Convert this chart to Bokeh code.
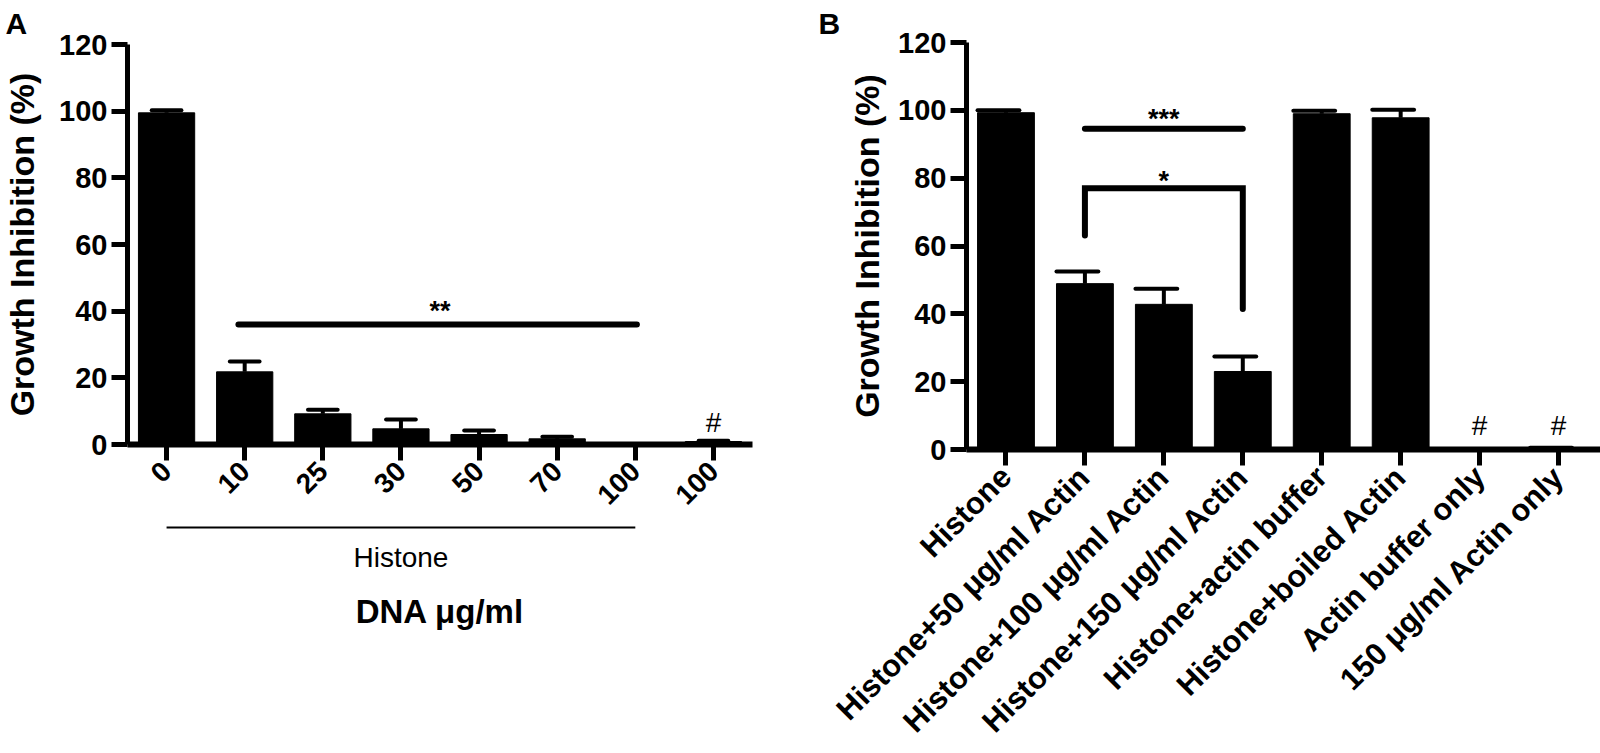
import math
from bokeh.plotting import figure
from bokeh.models import Range1d, FixedTicker, Label, LinearAxis, ColumnDataSource
from bokeh.embed import file_html
from bokeh.resources import INLINE

FONT = "Liberation Sans"

# ---------------- data ----------------
a_labels = ["0", "10", "25", "30", "50", "70", "100", "100"]
a_means = [99.5, 21.8, 9.2, 4.7, 3.0, 1.7, 0.0, 0.9]
a_errs = [0.8, 3.1, 1.2, 2.8, 1.2, 0.6, 0.0, 0.2]

b_labels = ["Histone", "Histone+50 μg/ml Actin", "Histone+100 μg/ml Actin",
            "Histone+150 μg/ml Actin", "Histone+actin buffer",
            "Histone+boiled Actin", "Actin buffer only", "150 μg/ml Actin only"]
b_means = [99.3, 48.9, 42.8, 23.0, 99.0, 97.8, 0.0, 0.4]
b_errs = [0.7, 3.6, 4.6, 4.4, 0.9, 2.4, 0.0, 0.1]

y_ticks = [0, 20, 40, 60, 80, 100, 120]

# significance marks (category index, value)
a_sig_x = [0.92, 6.02]
a_sig_y = [36.0, 36.0]
b_sig3_x = [1, 3]
b_sig3_y = [94.6, 94.6]
b_brk_x = [1, 1, 3, 3]
b_brk_y = [63.1, 77.0, 77.0, 41.4]
a_hash_idx = [7]
b_hash_idx = [6, 7]
a_group_span = [0, 6]   # categories under the "Histone" line

# ---------------- layout geometry (canvas pixels) ----------------
W, H = 1600, 753
A_LEFT, A_S, A_Y0, A_YPX = 127.0, 625 / 8, 444.0, 400.0
B_LEFT, B_S, B_Y0, B_YPX = 966.0, 78.94, 449.0, 407.0


def ax(px):
    return (px - A_LEFT) / A_S - 0.5


def ay(py):
    return (A_Y0 - py) / A_YPX * 120


def bx(px):
    return (px - B_LEFT) / B_S - 0.5


def by(py):
    return (B_Y0 - py) / B_YPX * 120


p = figure(width=W, height=H,
           x_range=Range1d(ax(0), ax(W)), y_range=Range1d(ay(H), ay(0)),
           x_axis_location=None, y_axis_location=None,
           output_backend="svg", toolbar_location=None, title=None,
           min_border=0, min_border_left=0, min_border_right=0,
           min_border_top=0, min_border_bottom=0)
p.extra_x_ranges = {"bx": Range1d(bx(0), bx(W))}
p.extra_y_ranges = {"by": Range1d(by(H), by(0))}
p.grid.visible = False
p.outline_line_color = None
p.background_fill_color = "white"
p.border_fill_color = "white"


def style_axis(a, size):
    a.minor_tick_line_color = None
    a.major_tick_line_width = 5
    a.major_tick_out = 16
    a.major_tick_in = 0
    a.major_label_text_font = FONT
    a.major_label_text_font_style = "bold"
    a.major_label_text_font_size = size
    a.major_label_text_color = "black"
    a.axis_line_color = "black"
    a.major_tick_line_color = "black"


def panel(labels, means, errs, x_end, label_size, cap_l, cap_r, rn):
    n = len(labels)
    kw = {} if rn is None else dict(x_range_name=rn[0], y_range_name=rn[1])
    xs = list(range(n))
    p.vbar(x=xs, top=means, width=0.72, bottom=0, fill_color="black",
           line_color="black", line_width=1, **kw)
    ex = [x for x, e in zip(xs, errs) if e > 0]
    et = [m for m, e in zip(means, errs) if e > 0]
    ee = [m + e for m, e in zip(means, errs) if e > 0]
    src = ColumnDataSource(dict(x=ex, top=et, hi=ee,
                                cl=[x - cap_l for x in ex],
                                cr=[x + cap_r for x in ex]))
    p.segment(x0="x", y0="top", x1="x", y1="hi", source=src,
              line_color="black", line_width=4, **kw)
    p.segment(x0="cl", y0="hi", x1="cr", y1="hi", source=src,
              line_color="black", line_width=4, line_cap="round", **kw)

    ya = LinearAxis(fixed_location=-0.5, bounds=(0, 120), **kw)
    ya.ticker = FixedTicker(ticks=y_ticks)
    style_axis(ya, "29px")
    ya.axis_line_width = 5
    ya.major_label_standoff = 4
    p.add_layout(ya, "left")

    xa = LinearAxis(fixed_location=0, bounds=(-0.5, x_end), **kw)
    xa.ticker = FixedTicker(ticks=xs)
    xa.major_label_overrides = {i: lab for i, lab in enumerate(labels)}
    style_axis(xa, label_size)
    xa.axis_line_width = 6
    xa.major_label_standoff = 6
    xa.major_label_orientation = math.pi / 4
    p.add_layout(xa, "below")


def lab(x, y, text, size, style="bold", align="center", angle=0, rn=None):
    kw = {} if rn is None else dict(x_range_name=rn[0], y_range_name=rn[1])
    p.add_layout(Label(x=x, y=y, text=text, text_font=FONT,
                       text_font_size=f"{size}px", text_font_style=style,
                       text_align=align, text_baseline="middle", angle=angle,
                       text_color="black", **kw))


# ---------------- panel A ----------------
panel(a_labels, a_means, a_errs, 7.5, "28px", 0.19, 0.19, None)
p.line(a_sig_x, a_sig_y, line_color="black", line_width=6, line_cap="round")
lab(3.5, ay(310), "**", 27)
for i in a_hash_idx:
    lab(i, ay(422), "#", 28, style="normal")
lab(ax(5), ay(23), "A", 30, align="left")
lab(ax(21), 60, "Growth Inhibition (%)", 34, angle=math.pi / 2)
p.line(a_group_span, [ay(527)] * 2, line_color="black", line_width=2)
lab(sum(a_group_span) / 2, ay(557), "Histone", 28, style="normal")
lab(3.5, ay(611), "DNA μg/ml", 33)

# ---------------- panel B ----------------
RB = ("bx", "by")
panel(b_labels, b_means, b_errs, bx(W), "31px", 0.36, 0.17, RB)
p.line(b_sig3_x, b_sig3_y, line_color="black", line_width=6, line_cap="round",
       x_range_name="bx", y_range_name="by")
p.line(b_brk_x, b_brk_y, line_color="black", line_width=6, line_cap="round",
       line_join="miter", x_range_name="bx", y_range_name="by")
lab(2, by(118), "***", 27, rn=RB)
lab(2, by(180), "*", 27, rn=RB)
for i in b_hash_idx:
    lab(i, by(425), "#", 28, style="normal", rn=RB)
lab(bx(818), by(23), "B", 30, align="left", rn=RB)
lab(bx(866), 60, "Growth Inhibition (%)", 34, angle=math.pi / 2, rn=RB)

open("out.html", "w").write(file_html(p, INLINE))
